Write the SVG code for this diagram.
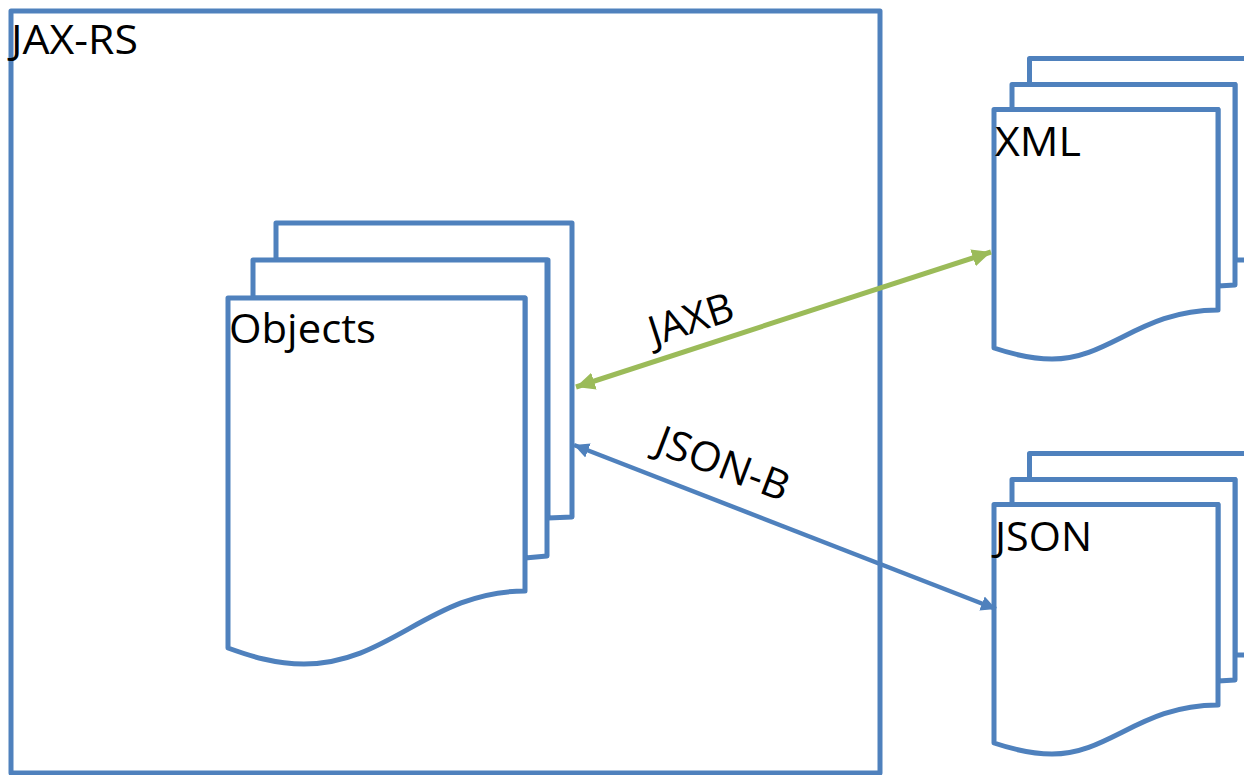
<svg xmlns="http://www.w3.org/2000/svg" width="1244" height="775" viewBox="0 0 1244 775">
<style>
.s{fill:#fff;stroke:#4f81bd;stroke-width:5;stroke-linejoin:round}
text{font-family:"Open Sans","Noto Sans",sans-serif;font-size:41px;fill:#000}
</style>
<defs>
<marker id="g" markerUnits="userSpaceOnUse" markerWidth="20" markerHeight="20" refX="17" refY="8" orient="auto-start-reverse" viewBox="0 0 18 16"><path d="M0 0L17 8L0 16z" fill="#9bbb59"/></marker>
<marker id="b" markerUnits="userSpaceOnUse" markerWidth="16" markerHeight="16" refX="15" refY="7.5" orient="auto-start-reverse" viewBox="0 0 16 15"><path d="M0 0L15 7.5L0 15z" fill="#4f81bd"/></marker>
</defs>
<g id="jaxrs"><rect class="s" x="11" y="11" width="869" height="762"/><text x="11" y="54" textLength="127" lengthAdjust="spacingAndGlyphs">JAX-RS</text></g>
<g id="objects">
<path class="s" d="M276 223H572V517L548 518V260H276z"/>
<path class="s" d="M253 260H547V556L525 558V298H253z"/>
<path class="s" d="M228 298H525V591C430 591 390 664 304 664C275 664 250 656 228 648z"/>
<text x="229" y="343" textLength="147" lengthAdjust="spacingAndGlyphs">Objects</text>
</g>
<g id="xml">
<path class="s" d="M1029.500 58.500H1250V260H1235V84.500H1029.500z"/>
<path class="s" d="M1012 84.500H1235V285L1218 286V109.500H1012z"/>
<path class="s" d="M994 109.500H1218V310C1140 310 1110 359 1052 359C1030 359 1012 354 994 348z"/>
<text x="995" y="156" textLength="86" lengthAdjust="spacingAndGlyphs">XML</text>
</g>
<g id="json">
<path class="s" d="M1029.500 453.500H1250V655H1235V479.500H1029.500z"/>
<path class="s" d="M1012 479.500H1235V680L1218 681V504.500H1012z"/>
<path class="s" d="M994 504.500H1218V705C1140 705 1110 754 1052 754C1030 754 1012 749 994 743z"/>
<text x="995" y="551" textLength="97" lengthAdjust="spacingAndGlyphs">JSON</text>
</g>
<g id="connectors">
<line x1="576" y1="387" x2="991" y2="252" stroke="#9bbb59" stroke-width="5" marker-start="url(#g)" marker-end="url(#g)"/>
<line x1="574" y1="445" x2="996" y2="609" stroke="#4f81bd" stroke-width="4.500" marker-start="url(#b)" marker-end="url(#b)"/>
</g>
<text id="jaxb" transform="translate(654 346) rotate(-18)" textLength="87" lengthAdjust="spacingAndGlyphs">JAXB</text>
<text id="jsonb" transform="translate(653 452) rotate(21)" textLength="139" lengthAdjust="spacingAndGlyphs">JSON-B</text>
</svg>
